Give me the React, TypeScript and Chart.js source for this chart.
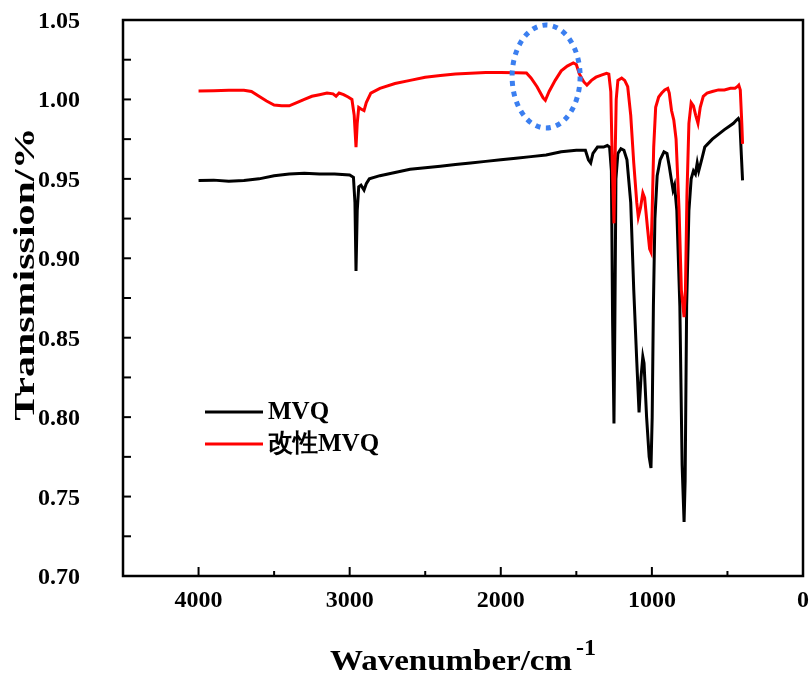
import React, { useEffect, useRef } from "react";
import { Chart, registerables } from "chart.js";

Chart.register(...registerables);

// ---- data ----
const seriesNames = ["MVQ", "改性MVQ"];

const mvqWave = [
  4000, 3900, 3800, 3700, 3600, 3500, 3400, 3300, 3200, 3100, 3000, 2975, 2965, 2958, 2950, 2940, 2925, 2905,
  2890, 2870, 2800, 2700, 2600, 2500, 2400, 2300, 2200, 2100, 2000, 1900, 1800, 1700, 1600, 1500, 1440, 1420,
  1405, 1390, 1360, 1320, 1295, 1280, 1268, 1260, 1251, 1245, 1238, 1225, 1205, 1185, 1165, 1140, 1120, 1100,
  1085, 1072, 1060, 1052, 1035, 1018, 1006, 998, 990, 980, 965, 945, 920, 900, 885, 872, 860, 850, 835, 815,
  800, 787, 780, 770, 755, 740, 725, 712, 700, 690, 668, 650, 630, 600, 560, 520, 490, 460, 440, 428, 418, 408,
  400,
];
const mvqTrans = [
  0.949, 0.9492, 0.9485, 0.949, 0.95, 0.952, 0.953, 0.9535, 0.953, 0.953, 0.9525, 0.951, 0.935, 0.892, 0.93,
  0.945, 0.946, 0.943, 0.947, 0.95, 0.952, 0.954, 0.956, 0.957, 0.958, 0.959, 0.96, 0.961, 0.962, 0.963, 0.964,
  0.965, 0.967, 0.968, 0.968, 0.962, 0.96, 0.966, 0.97, 0.97, 0.971, 0.97, 0.955, 0.86, 0.796, 0.86, 0.95,
  0.966, 0.969, 0.968, 0.962, 0.935, 0.88, 0.835, 0.803, 0.825, 0.838, 0.834, 0.8, 0.775, 0.768, 0.8, 0.87,
  0.925, 0.952, 0.962, 0.967, 0.966, 0.958, 0.95, 0.943, 0.946, 0.93, 0.87, 0.77, 0.734, 0.76, 0.87, 0.93, 0.95,
  0.955, 0.953, 0.96, 0.955, 0.963, 0.97, 0.972, 0.975, 0.978, 0.981, 0.983, 0.985, 0.987, 0.988, 0.986, 0.965,
  0.949,
];

const modWave = [
  4000, 3900, 3800, 3700, 3650, 3600, 3550, 3500, 3450, 3400, 3350, 3300, 3250, 3200, 3150, 3110, 3090, 3070,
  3040, 3010, 2985, 2970, 2958, 2950, 2940, 2925, 2905, 2890, 2860, 2800, 2700, 2600, 2500, 2400, 2300, 2200,
  2100, 2000, 1900, 1830, 1800, 1760, 1720, 1705, 1680, 1640, 1600, 1560, 1520, 1500, 1480, 1450, 1430, 1400,
  1370, 1330, 1300, 1285, 1272, 1262, 1251, 1244, 1236, 1225, 1200, 1180, 1160, 1140, 1120, 1100, 1090, 1075,
  1060, 1048, 1030, 1015, 1006, 998, 988, 975, 955, 935, 915, 895, 885, 870, 855, 840, 820, 805, 787, 778, 768,
  755, 740, 725, 710, 695, 680, 660, 635, 600, 560, 520, 480, 450, 435, 425, 415, 405, 400,
];
const modTrans = [
  1.0053, 1.0055, 1.0058, 1.0058, 1.005, 1.002, 0.999, 0.9965, 0.996, 0.996, 0.998, 1.0, 1.002, 1.003, 1.004,
  1.0035, 1.002, 1.004, 1.003, 1.0015, 1.0, 0.99, 0.97, 0.985, 0.995, 0.994, 0.993, 0.998, 1.004, 1.007, 1.01,
  1.012, 1.014, 1.015, 1.016, 1.0165, 1.017, 1.017, 1.0168, 1.0166, 1.0135, 1.008, 1.001, 0.9995, 1.005, 1.012,
  1.018, 1.021, 1.023, 1.022, 1.016, 1.011, 1.009, 1.012, 1.014, 1.0155, 1.0165, 1.016, 1.005, 0.96, 0.922,
  0.96, 1.0, 1.012, 1.0135, 1.012, 1.008, 0.99, 0.96, 0.935, 0.926, 0.932, 0.941, 0.938, 0.92, 0.906, 0.904,
  0.93, 0.97, 0.995, 1.0015, 1.004, 1.006, 1.007, 1.004, 0.993, 0.987, 0.975, 0.93, 0.88, 0.863, 0.88, 0.94,
  0.985, 0.998, 0.996, 0.99, 0.985, 0.995, 1.002, 1.004, 1.005, 1.006, 1.006, 1.007, 1.007, 1.008, 1.009,
  1.006, 0.985, 0.972, 0.97,
];

const xTickValues = [4000, 3000, 2000, 1000, 0];
const yTickValues = [0.7, 0.75, 0.8, 0.85, 0.9, 0.95, 1.0, 1.05];
const xTitle = "Wavenumber/cm";
const xTitleSup = "-1";
const yTitle = "Transmission/%";

// dotted highlight around the ~1700 cm-1 band (data units)
const highlightWave = 1700;
const highlightWaveHalf = 225;
const highlightTrans = 1.0144;
const highlightTransHalf = 0.0324;

const SERIF = "'Liberation Serif', 'Times New Roman', serif";

const axesPlugin = {
  id: "axesDraw",
  afterDraw(chart: any) {
    const { ctx, chartArea } = chart;
    const { left, right, top, bottom } = chartArea;
    const xs = chart.scales.x;
    const ys = chart.scales.y;
    ctx.save();
    ctx.strokeStyle = "#000";
    ctx.lineWidth = 2.5;
    ctx.strokeRect(left, top, right - left, bottom - top);
    ctx.lineWidth = 2;
    for (let v = 0; v <= 4500; v += 500) {
      const px = xs.getPixelForValue(v);
      const len = v % 1000 === 0 ? 9 : 5;
      ctx.beginPath();
      ctx.moveTo(px, bottom);
      ctx.lineTo(px, bottom - len);
      ctx.stroke();
    }
    for (let i = 0; i <= 14; i++) {
      const v = 0.7 + i * 0.025;
      const py = ys.getPixelForValue(v);
      ctx.beginPath();
      ctx.moveTo(left, py);
      ctx.lineTo(left + 8, py);
      ctx.stroke();
    }
    // tick labels
    ctx.fillStyle = "#000";
    ctx.font = `bold 24px ${SERIF}`;
    ctx.textBaseline = "alphabetic";
    ctx.textAlign = "center";
    xTickValues.forEach((v) => {
      ctx.fillText(String(v), xs.getPixelForValue(v), bottom + 31);
    });
    ctx.textAlign = "right";
    yTickValues.forEach((v) => {
      ctx.fillText(v.toFixed(2), left - 43, ys.getPixelForValue(v) + 8);
    });
    ctx.restore();

    // axis titles
    ctx.save();
    ctx.fillStyle = "#000";
    ctx.font = `bold 30px ${SERIF}`;
    ctx.textAlign = "center";
    ctx.textBaseline = "middle";
    ctx.translate(26, 274);
    ctx.rotate(-Math.PI / 2);
    ctx.scale(1.4, 1);
    ctx.fillText(yTitle, 0, 0);
    ctx.restore();

    ctx.save();
    ctx.fillStyle = "#000";
    ctx.textBaseline = "alphabetic";
    ctx.textAlign = "left";
    ctx.font = `bold 30px ${SERIF}`;
    const w = ctx.measureText(xTitle).width * 1.1;
    ctx.font = `bold 24px ${SERIF}`;
    const ws = ctx.measureText(xTitleSup).width;
    const startX = 463 - (w + 4 + ws) / 2;
    ctx.save();
    ctx.translate(startX, 670);
    ctx.scale(1.1, 1);
    ctx.font = `bold 30px ${SERIF}`;
    ctx.fillText(xTitle, 0, 0);
    ctx.restore();
    ctx.font = `bold 24px ${SERIF}`;
    ctx.fillText(xTitleSup, startX + w + 4, 655);
    ctx.restore();
  },
};

const decorPlugin = {
  id: "decor",
  afterDatasetsDraw(chart: any) {
    const { ctx } = chart;
    const xs = chart.scales.x;
    const ys = chart.scales.y;
    const cx = xs.getPixelForValue(highlightWave);
    const rx = Math.abs(xs.getPixelForValue(highlightWave - highlightWaveHalf) - cx);
    const cy = ys.getPixelForValue(highlightTrans);
    const ry = Math.abs(ys.getPixelForValue(highlightTrans + highlightTransHalf) - cy);
    ctx.save();
    ctx.strokeStyle = "#3b7ff0";
    ctx.lineWidth = 5;
    ctx.setLineDash([5, 5.5]);
    ctx.beginPath();
    ctx.ellipse(cx, cy, rx, ry, 0, 0, Math.PI * 2);
    ctx.stroke();
    ctx.restore();

    // legend
    const ds = chart.data.datasets;
    ctx.save();
    ctx.font = `bold 25px ${SERIF}`;
    ctx.textBaseline = "middle";
    ctx.fillStyle = "#000";
    ds.forEach((d: any, i: number) => {
      const y = 412 + i * 32;
      ctx.strokeStyle = d.borderColor;
      ctx.lineWidth = 3;
      ctx.beginPath();
      ctx.moveTo(205, y);
      ctx.lineTo(263, y);
      ctx.stroke();
      ctx.fillText(d.label, 268, y + 1);
    });
    ctx.restore();
  },
};

export default function App() {
  const ref = useRef<HTMLCanvasElement | null>(null);
  useEffect(() => {
    if (!ref.current) return;
    const chart = new Chart(ref.current, {
      type: "line",
      data: {
        datasets: [
          {
            label: seriesNames[0],
            data: mvqWave.map((w, i) => ({ x: w, y: mvqTrans[i] })),
            borderColor: "#000000",
            borderWidth: 3,
            pointRadius: 0,
            tension: 0,
            fill: false,
            order: 1,
          },
          {
            label: seriesNames[1],
            data: modWave.map((w, i) => ({ x: w, y: modTrans[i] })),
            borderColor: "#ff0000",
            borderWidth: 3,
            pointRadius: 0,
            tension: 0,
            fill: false,
            order: 0,
          },
        ],
      },
      options: {
        animation: false,
        responsive: false,
        maintainAspectRatio: false,
        layout: { padding: { top: 20, right: 7, left: 0, bottom: 0 }, autoPadding: false },
        plugins: { legend: { display: false }, tooltip: { enabled: false }, title: { display: false } },
        scales: {
          x: {
            type: "linear",
            reverse: true,
            min: 0,
            max: 4500,
            grid: { display: false, drawTicks: false },
            border: { display: false },
            ticks: { display: false, stepSize: 1000 },
            afterFit: (s: any) => {
              s.height = 100;
            },
          },
          y: {
            type: "linear",
            min: 0.7,
            max: 1.05,
            grid: { display: false, drawTicks: false },
            border: { display: false },
            ticks: { display: false, stepSize: 0.05 },
            afterFit: (s: any) => {
              s.width = 123;
            },
          },
        },
      },
      plugins: [axesPlugin, decorPlugin],
    });
    return () => chart.destroy();
  }, []);
  return (
    <div style={{ position: "absolute", left: 0, top: 0, width: 810, height: 676, background: "#fff" }}>
      <canvas ref={ref} width={810} height={676} />
    </div>
  );
}
